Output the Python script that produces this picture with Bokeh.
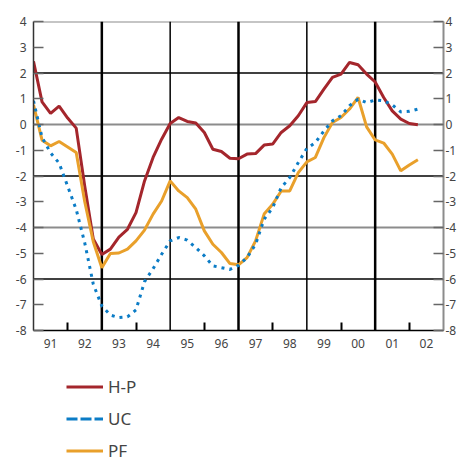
from bokeh.plotting import figure
from bokeh.layouts import column
from bokeh.models import (Range1d, FixedTicker, Span, Legend, LinearAxis,
                          LegendItem, ColumnDataSource)
from bokeh.embed import file_html
from bokeh.resources import INLINE

# Quarterly data, 1991Q1 - 2002Q2
first_year = 1991
hp = [2.45, 0.88, 0.43, 0.71, 0.25, -0.14, -2.4, -4.45,
      -5.05, -4.84, -4.37, -4.07, -3.42, -2.19, -1.28, -0.57,
      0.04, 0.27, 0.12, 0.06, -0.31, -0.96, -1.05, -1.31,
      -1.33, -1.15, -1.13, -0.8, -0.76, -0.31, -0.05, 0.34,
      0.85, 0.89, 1.37, 1.83, 1.96, 2.41, 2.32, 1.96,
      1.65, 1.05, 0.53, 0.21, 0.04, -0.01]
uc = [0.92, -0.5, -1.1, -1.5, -2.4, -3.3, -4.6, -6.2,
      -7.05, -7.4, -7.5, -7.47, -7.2, -6.1, -5.6, -5.04,
      -4.52, -4.39, -4.49, -4.78, -5.1, -5.49, -5.56, -5.63,
      -5.47, -5.17, -4.65, -3.68, -3.23, -2.45, -2.06, -1.48,
      -0.93, -0.7, -0.25, 0.14, 0.34, 0.73, 0.98, 0.85,
      0.95, 0.92, 0.76, 0.49, 0.51, 0.6]
pf = [0.76, -0.61, -0.83, -0.66, -0.87, -1.09, -3.0, -4.55,
      -5.56, -5.01, -4.99, -4.84, -4.52, -4.1, -3.48, -2.97,
      -2.19, -2.58, -2.84, -3.29, -4.13, -4.65, -4.97, -5.4,
      -5.45, -5.17, -4.52, -3.48, -3.1, -2.58, -2.58, -1.87,
      -1.45, -1.28, -0.51, 0.08, 0.27, 0.6, 1.05, -0.09,
      -0.6, -0.72, -1.15, -1.8, -1.57, -1.37]

year_labels = ["91", "92", "93", "94", "95", "96", "97", "98", "99", "00", "01", "02"]
label_years = [1991.5, 1992.5, 1993.5, 1994.5, 1995.5, 1996.5,
               1997.5, 1998.5, 1999.5, 2000.5, 2001.5, 2002.5]
tick_years = [1992, 1994, 1996, 1998, 2000, 2002]
y_ticks = [-8, -7, -6, -5, -4, -3, -2, -1, 0, 1, 2, 3, 4]
h_gray = [4, 0, -4]
h_black = [2, -2, -6]
v_thick = [1993, 1997, 2001]
v_thin = [1995, 1999]
series_names = ["H-P", "UC", "PF"]

t = [first_year + i / 4 for i in range(len(hp))]
src = ColumnDataSource(dict(t=t, hp=hp, uc=uc, pf=pf))

RED = "#a4262c"
ORANGE = "#e9a02b"
BLUE = "#0b7cc6"
GRAY = "#8c8c8c"
TXT = "#444444"
FONT = "Noto Sans"

p = figure(width=459, height=358, output_backend="svg", toolbar_location=None,
           title=None, x_range=Range1d(1991, 2003), y_range=Range1d(-8, 4),
           min_border_left=33, min_border_right=16, min_border_top=21,
           min_border_bottom=28)
p.outline_line_color = None
p.xgrid.visible = False
p.ygrid.visible = False

for v in h_gray:
    p.add_layout(Span(location=v, dimension="width", line_color=GRAY,
                      line_width=2.2, level="underlay"))
for v in h_black:
    p.add_layout(Span(location=v, dimension="width", line_color="black",
                      line_width=1.5, level="underlay"))
for v in v_thick:
    p.add_layout(Span(location=v, dimension="height", line_color="black",
                      line_width=2.5, level="underlay"))
for v in v_thin:
    p.add_layout(Span(location=v, dimension="height", line_color="black",
                      line_width=1.5, level="underlay"))

# x axis
xa = p.xaxis[0]
xa.ticker = FixedTicker(ticks=label_years, minor_ticks=tick_years)
xa.major_label_overrides = {y: l for y, l in zip(label_years, year_labels)}
xa.major_tick_in = 0
xa.major_tick_out = 0
xa.minor_tick_in = 8
xa.minor_tick_out = 0
xa.minor_tick_line_color = "black"
xa.minor_tick_line_width = 2
xa.axis_line_color = "black"
xa.axis_line_width = 1.5
xa.major_label_standoff = 8
xa.major_label_text_font = FONT
xa.major_label_text_font_size = "12px"
xa.major_label_text_color = TXT

y_labels = {v: str(v) for v in y_ticks}

def style_y(ax, line_color, standoff):
    ax.ticker = FixedTicker(ticks=y_ticks)
    ax.major_label_overrides = y_labels
    ax.major_tick_in = 10
    ax.major_tick_out = 0
    ax.minor_tick_line_color = None
    ax.major_tick_line_color = "#666666"
    ax.major_tick_line_width = 1.5
    ax.axis_line_color = line_color
    ax.axis_line_width = 1.5 if line_color != GRAY else 2
    ax.major_label_standoff = standoff
    ax.major_label_text_font = FONT
    ax.major_label_text_font_size = "12px"
    ax.major_label_text_color = TXT

style_y(p.yaxis[0], "#333333", 7)
ra = LinearAxis()
style_y(ra, GRAY, 2)
p.add_layout(ra, "right")

r_hp = p.line("t", "hp", source=src, line_color=RED, line_width=3)
r_pf = p.line("t", "pf", source=src, line_color=ORANGE, line_width=3)
r_uc = p.line("t", "uc", source=src, line_color=BLUE, line_width=3,
              line_dash="3 5")

# legend strip
pl = figure(width=459, height=104, output_backend="svg", toolbar_location=None,
            title=None, x_range=Range1d(0, 1), y_range=Range1d(0, 1),
            x_axis_type=None, y_axis_type=None, min_border=0,
            min_border_left=0, min_border_right=0, min_border_top=0,
            min_border_bottom=0)
pl.outline_line_color = None
pl.grid.visible = False
l_hp = pl.line(x=t[:1], y=hp[:1], line_color=RED, line_width=3)
l_uc = pl.line(x=t[:1], y=uc[:1], line_color=BLUE, line_width=3, line_dash="11 3")
l_pf = pl.line(x=t[:1], y=pf[:1], line_color=ORANGE, line_width=3)
legend = Legend(items=[LegendItem(label=series_names[0], renderers=[l_hp]),
                       LegendItem(label=series_names[1], renderers=[l_uc]),
                       LegendItem(label=series_names[2], renderers=[l_pf])],
                location=(33, 0), orientation="vertical",
                glyph_width=37, glyph_height=23, label_height=23,
                label_standoff=5, spacing=9, padding=0, margin=0,
                border_line_alpha=0, background_fill_alpha=0,
                label_text_font=FONT, label_text_font_size="17px",
                label_text_color=TXT)
pl.add_layout(legend)

layout = column(p, pl)
open("out.html", "w").write(file_html(layout, INLINE))
